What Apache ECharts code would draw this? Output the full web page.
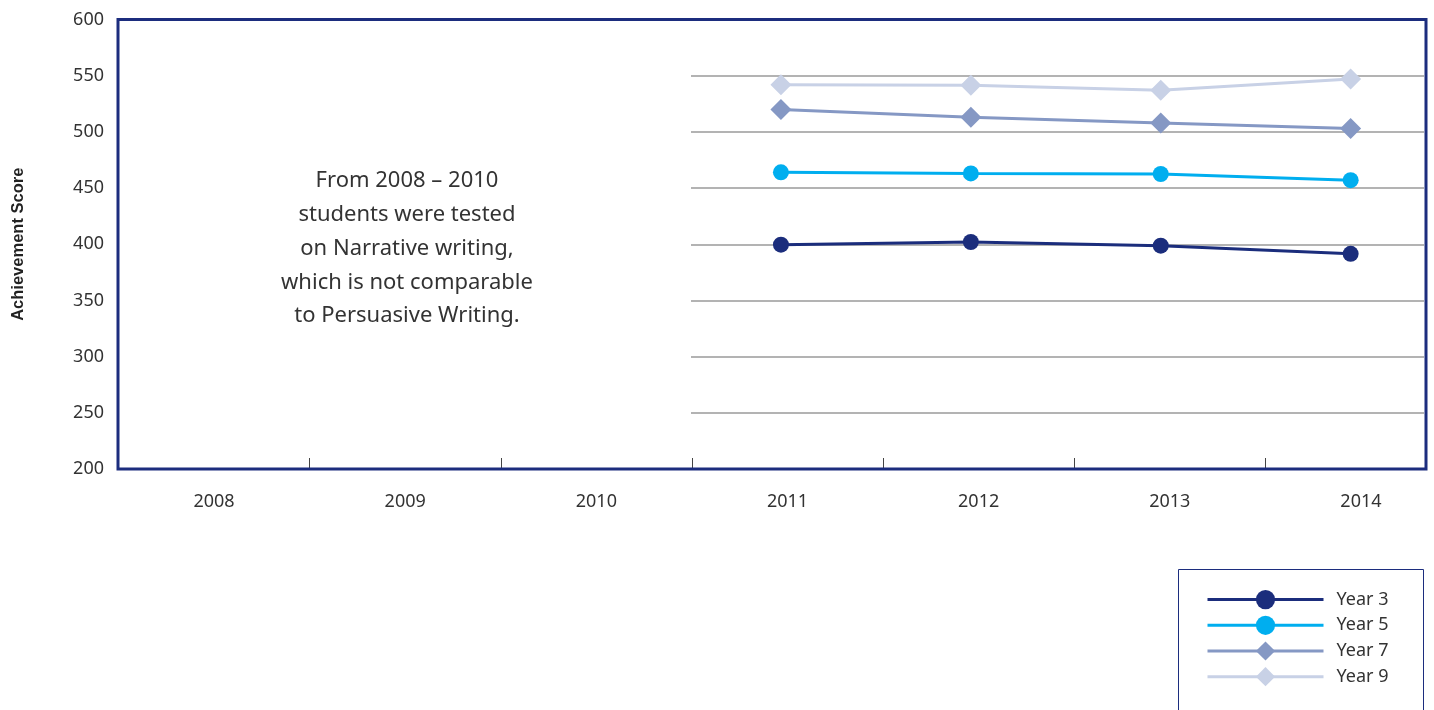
<!DOCTYPE html>
<html><head><meta charset="utf-8">
<script src="https://cdn.jsdelivr.net/npm/echarts@6/dist/echarts.min.js"></script>
<style>html,body{margin:0;padding:0;background:#fff}#c{width:1434px;height:710px}</style>
</head><body><div id="c"></div>
<script>
const allYears = ['2008','2009','2010','2011','2012','2013','2014'];
const testYears = ['2011','2012','2013','2014'];
const yTicks = [200,250,300,350,400,450,500,550,600];
const year3 = [399.6, 402, 398.7, 391.5];
const year5 = [464, 463, 462.5, 457];
const year7 = [520, 513, 508, 503];
const year9 = [542, 541.5, 537, 547];
const seriesNames = ['Year 3','Year 5','Year 7','Year 9'];
const note = 'From 2008 \u2013 2010\nstudents were tested\non Narrative writing,\nwhich is not comparable\nto Persuasive Writing.';

const NAVY = '#1c2d7e';
const FONT = '"Noto Sans", "Liberation Sans", sans-serif';
const yMin = yTicks[0], yMax = yTicks[yTicks.length-1], yStep = yTicks[1]-yTicks[0];
const gTop = 19.5, gHeight = 449.5;

const chart = echarts.init(document.getElementById('c'));
function yAx(idx, show, split) {
  return {gridIndex: idx, type:'value', min:yMin, max:yMax, interval:yStep,
    axisLine:{show:false}, axisTick:{show:false},
    axisLabel:{show:show, color:'#333', fontSize:18, fontFamily:FONT, margin:14.5},
    splitLine:{show:split, lineStyle:{color:'#9a9a9a', width:1.5}},
    name: show ? 'Achievement Score' : '', nameLocation:'middle', nameGap:92,
    nameTextStyle:{fontWeight:'bold', fontSize:16.5, color:'#222', fontFamily:'"Liberation Sans", Arial, sans-serif'}};
}
const mk = (name, data, color, symbol, size) => ({
  name, type:'line', data, xAxisIndex:2, yAxisIndex:2,
  symbol, symbolSize:size, showSymbol:true,
  lineStyle:{color, width:3}, itemStyle:{color}, z:5
});
chart.setOption({
  animation:false,
  grid:[
    {left:118.5, top:gTop, width:1338, height:gHeight, outerBoundsMode:'none', containLabel:false},
    {left:691, top:gTop, width:733, height:gHeight, outerBoundsMode:'none', containLabel:false},
    {left:686, top:gTop, width:759.6, height:gHeight, outerBoundsMode:'none', containLabel:false}
  ],
  xAxis:[
    {gridIndex:0, type:'category', data:allYears, boundaryGap:true,
      axisLine:{show:false},
      axisTick:{show:true, inside:true, length:11, lineStyle:{color:'#444', width:1}},
      axisLabel:{color:'#333', fontSize:18, fontFamily:FONT, margin:24},
      splitLine:{show:false}},
    {gridIndex:1, type:'category', data:testYears, show:false},
    {gridIndex:2, type:'category', data:testYears, show:false}
  ],
  yAxis:[yAx(0,true,false), yAx(1,false,true), yAx(2,false,false)],
  legend:{
    orient:'vertical', left:1206, top:590, padding:0, itemGap:6.5,
    itemWidth:116, itemHeight:24, data:seriesNames,
    lineStyle:{width:3},
    textStyle:{color:'#333', fontSize:18, fontFamily:FONT, padding:[0,0,0,8]}
  },
  series:[
    mk(seriesNames[0], year3, '#1b2d7c', 'circle', 16),
    mk(seriesNames[1], year5, '#00aeef', 'circle', 16),
    mk(seriesNames[2], year7, '#8598c4', 'diamond', 21),
    mk(seriesNames[3], year9, '#c8d1e6', 'diamond', 21)
  ],
  graphic:[
    {type:'rect', z:100, silent:true, shape:{x:118, y:gTop, width:1308, height:gHeight},
      style:{fill:null, stroke:NAVY, lineWidth:3}},
    {type:'rect', z:100, silent:true, shape:{x:1178.5, y:569.5, width:245, height:160},
      style:{fill:null, stroke:NAVY, lineWidth:1}},
    {type:'text', z:100, silent:true, x:407, y:164,
      style:{text:note, fill:'#333', font:'22px ' + FONT, align:'center', verticalAlign:'top', lineHeight:33.8}}
  ]
});
</script></body></html>
